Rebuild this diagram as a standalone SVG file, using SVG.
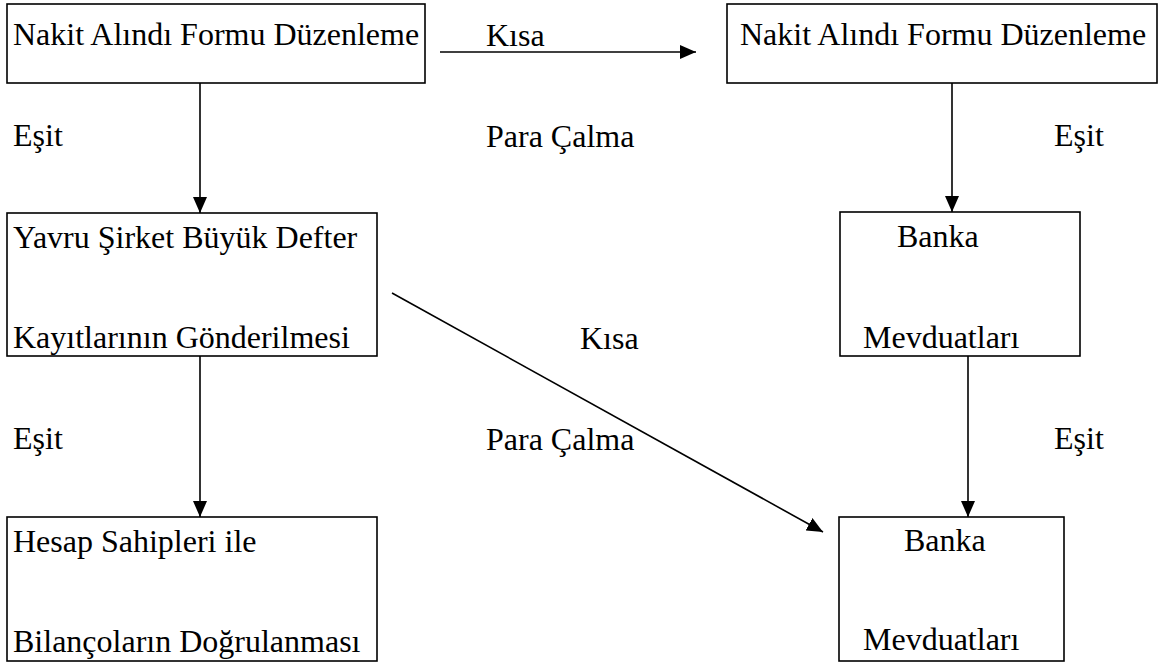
<svg xmlns="http://www.w3.org/2000/svg" width="1162" height="664" viewBox="0 0 1162 664" font-family="Liberation Serif, Times New Roman, serif" font-size="32">
<style>
.box{fill:#fff;stroke:#000;stroke-width:1.6}
.c{stroke:#000;stroke-width:1.6;fill:none;marker-end:url(#ah)}
</style>
<defs>
<marker id="ah" markerUnits="userSpaceOnUse" markerWidth="18" markerHeight="14" refX="16" refY="7" orient="auto">
<path d="M0,0 L16,7 L0,14 Z" fill="#000"/>
</marker>
</defs>
<rect width="1162" height="664" fill="#fff"/>
<g id="n1"><rect class="box" x="7" y="4" width="418" height="79"/><text x="13" y="45">Nakit Alındı Formu Düzenleme</text></g>
<g id="n2"><rect class="box" x="727" y="4" width="430" height="79"/><text x="740" y="45">Nakit Alındı Formu Düzenleme</text></g>
<g id="n3"><rect class="box" x="7" y="213" width="370" height="143"/><text x="13" y="248">Yavru Şirket Büyük Defter</text><text x="13" y="348">Kayıtlarının Gönderilmesi</text></g>
<g id="n4"><rect class="box" x="840" y="212" width="240" height="144"/><text x="897" y="247">Banka</text><text x="863" y="348">Mevduatları</text></g>
<g id="n5"><rect class="box" x="7" y="517" width="370" height="144"/><text x="13" y="552">Hesap Sahipleri ile</text><text x="13" y="652">Bilançoların Doğrulanması</text></g>
<g id="n6"><rect class="box" x="839" y="517" width="225" height="144"/><text x="904" y="551">Banka</text><text x="863" y="650">Mevduatları</text></g>
<g id="connectors">
<line class="c" x1="440" y1="52" x2="696" y2="52"/>
<line class="c" x1="200" y1="83" x2="200" y2="213"/>
<line class="c" x1="952" y1="83" x2="952" y2="212"/>
<line class="c" x1="200" y1="356" x2="200" y2="517"/>
<line class="c" x1="968" y1="356" x2="968" y2="517"/>
<line class="c" x1="392" y1="293" x2="823" y2="532"/>
</g>
<g id="labels">
<text x="486" y="46">Kısa</text>
<text x="13" y="146">Eşit</text>
<text x="486" y="147">Para Çalma</text>
<text x="1054" y="146">Eşit</text>
<text x="580" y="349">Kısa</text>
<text x="13" y="449">Eşit</text>
<text x="486" y="450">Para Çalma</text>
<text x="1054" y="449">Eşit</text>
</g>
</svg>
